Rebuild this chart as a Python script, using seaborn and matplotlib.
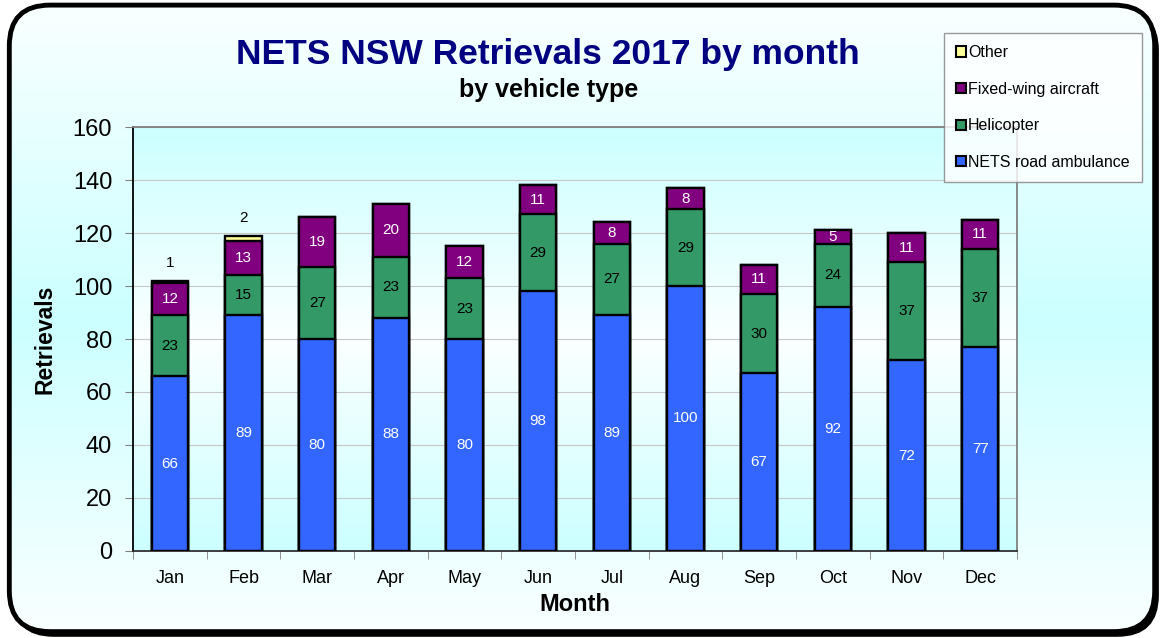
import numpy as np
import matplotlib
matplotlib.use("Agg")
import matplotlib.pyplot as plt
import seaborn as sns
from matplotlib.patches import FancyBboxPatch, Patch
from matplotlib.colors import LinearSegmentedColormap

months = ["Jan", "Feb", "Mar", "Apr", "May", "Jun", "Jul", "Aug", "Sep", "Oct", "Nov", "Dec"]
road = [66, 89, 80, 88, 80, 98, 89, 100, 67, 92, 72, 77]
heli = [23, 15, 27, 23, 23, 29, 27, 29, 30, 24, 37, 37]
fixed = [12, 13, 19, 20, 12, 11, 8, 8, 11, 5, 11, 11]
other = [1, 2, 0, 0, 0, 0, 0, 0, 0, 0, 0, 0]

series = ["NETS road ambulance", "Helicopter", "Fixed-wing aircraft", "Other"]
colors = ["#3366FF", "#339966", "#800080", "#FFFF99"]

sns.set_style("white")
plt.rcParams["font.family"] = ["Liberation Sans", "DejaVu Sans"]
plt.rcParams["text.color"] = "black"

fig = plt.figure(figsize=(11.64, 6.38), dpi=100)
fig.patch.set_facecolor("white")

# background axes: rounded frame with shadow and a "from centre" gradient
bg = fig.add_axes([0, 0, 1, 1], zorder=-5)
bg.set_axis_off()
bg.set_xlim(0, 1)
bg.set_ylim(0, 1)
box = dict(boxstyle="round,pad=0,rounding_size=0.035", mutation_aspect=1164 / 638)
shadow = FancyBboxPatch((0.011, 0.003), 0.984, 0.982, facecolor="black",
                        edgecolor="black", zorder=0, **box)
bg.add_patch(shadow)
frame = FancyBboxPatch((0.008, 0.01), 0.984, 0.982, facecolor="none",
                       edgecolor="black", linewidth=3.5, zorder=3, **box)
bg.add_patch(frame)
edge_cmap = LinearSegmentedColormap.from_list("outer", ["#FAFFFF", "#CCFFFF", "#FAFFFF"])
grad = np.linspace(0, 1, 256).reshape(-1, 1)
im = bg.imshow(grad, cmap=edge_cmap, aspect="auto", extent=[0, 1, 0, 1], zorder=1)
im.set_clip_path(frame)

ax = fig.add_axes([0.1143, 0.1364, 0.7594, 0.6645])
ax.set_zorder(2)

# plot area gradient: cyan at top and bottom, white in the middle
area_cmap = LinearSegmentedColormap.from_list("area", ["#CCFFFF", "#FBFFFF", "#CCFFFF"])
ax.imshow(grad, cmap=area_cmap, aspect="auto", extent=[0, 1, 0, 1],
          transform=ax.transAxes, zorder=0)

# stacked bars: draw cumulative totals from the top down
layers = [road, heli, fixed, other]
cum = np.cumsum(np.array(layers), axis=0)
for i in range(len(layers) - 1, -1, -1):
    sns.barplot(x=months, y=cum[i], color=colors[i], width=0.49, saturation=1,
                edgecolor="black", linewidth=1.7, ax=ax, zorder=3)

# segment labels
txt_colors = ["white", "black", "white"]
for i in range(3):
    for j, v in enumerate(layers[i]):
        base = cum[i][j] - v
        ax.text(j, base + v / 2, str(v), ha="center", va="center",
                color=txt_colors[i], fontsize=11, zorder=5)
for j, v in enumerate(other):
    if v:
        ax.text(j, cum[3][j] + 4, str(v), ha="center", va="bottom",
                color="black", fontsize=11, zorder=5)

ax.set_ylim(0, 160)
ax.set_xlim(-0.5, 11.5)
ax.set_yticks(range(0, 161, 20))
ax.set_xticks(np.arange(-0.5, 12, 1), minor=True)
ax.yaxis.grid(True, color="#C8C8C8", linewidth=0.8)
ax.set_axisbelow(True)
ax.tick_params(axis="y", labelsize=17, length=6, direction="out", left=True,
               color="#808080", labelcolor="black", pad=9)
ax.tick_params(axis="x", which="major", labelsize=13, length=0, pad=14, labelcolor="black")
ax.tick_params(axis="x", which="minor", length=6, direction="out", bottom=True,
               color="#808080")
ax.set_ylabel("Retrievals", fontsize=16.5, fontweight="bold", labelpad=12, color="black")
ax.set_xlabel("Month", fontsize=17, fontweight="bold", labelpad=4, color="black")
for s in ax.spines.values():
    s.set_color("#808080")
    s.set_linewidth(1.3)
ax.spines["left"].set_color("black")
ax.spines["bottom"].set_color("#303030")

fig.text(0.471, 0.915, "NETS NSW Retrievals 2017 by month", ha="center", va="center",
         fontsize=25.5, fontweight="bold", color="#000080")
fig.text(0.471, 0.859, "by vehicle type", ha="center", va="center",
         fontsize=18, fontweight="bold", color="black")

handles = [Patch(facecolor=colors[i], edgecolor="black", linewidth=1.5, label=series[i])
           for i in range(3, -1, -1)]
leg = fig.legend(handles=handles, loc="upper left", bbox_to_anchor=(0.811, 0.948),
                 fontsize=11.5, frameon=True, fancybox=False, handlelength=0.6,
                 handleheight=0.6, handletextpad=0.15, labelspacing=1.35, borderpad=0.75,
                 borderaxespad=0)
leg.get_frame().set_edgecolor("#808080")
leg.get_frame().set_facecolor("white")
leg.get_frame().set_linewidth(1)
leg.set_zorder(5)

fig.savefig("out.png", dpi=100)
